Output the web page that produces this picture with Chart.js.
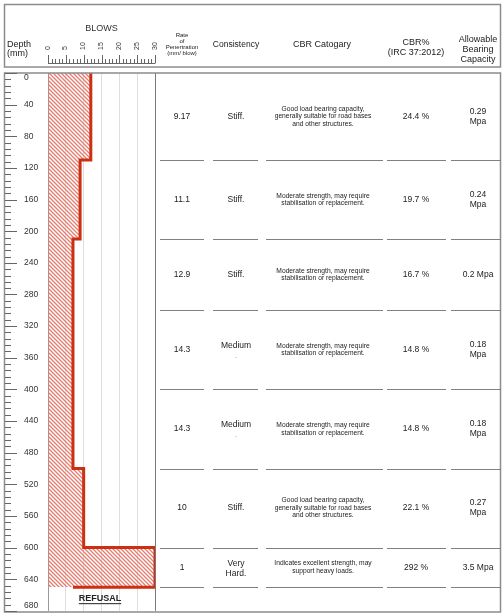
<!DOCTYPE html>
<html>
<head>
<meta charset="utf-8">
<script src="https://cdn.jsdelivr.net/npm/chart.js@4.4.0/dist/chart.umd.min.js"></script>
<style>
  html, body { margin: 0; padding: 0; background: #fff; }
  #mycanvas { display: block; }
</style>
</head>
<body>
<canvas id="mycanvas" width="504" height="616"></canvas>
<script>
// DCP log, depths in mm
var layerTop = [0, 110, 210, 300, 400, 500, 600];
var layerBottom = [110, 210, 300, 400, 500, 600, 650];
var blows = [12, 9, 7, 7, 7, 10, 30];
var refusalEnd = 7;

var rate = ['9.17', '11.1', '12.9', '14.3', '14.3', '10', '1'];
var consistency = ['Stiff.', 'Stiff.', 'Stiff.', 'Medium\n.', 'Medium\n.', 'Stiff.', 'Very\nHard.'];
var cbrCategory = [
	'Good load bearing capacity,\ngenerally suitable for road bases\nand other structures.',
	'Moderate strength, may require\nstabilisation or replacement.',
	'Moderate strength, may require\nstabilisation or replacement.',
	'Moderate strength, may require\nstabilisation or replacement.',
	'Moderate strength, may require\nstabilisation or replacement.',
	'Good load bearing capacity,\ngenerally suitable for road bases\nand other structures.',
	'Indicates excellent strength, may\nsupport heavy loads.'
];
var cbr = ['24.4 %', '19.7 %', '16.7 %', '14.8 %', '14.8 %', '22.1 %', '292 %'];
var bearing = ['0.29\nMpa', '0.24\nMpa', '0.2 Mpa', '0.18\nMpa', '0.18\nMpa', '0.27\nMpa', '3.5 Mpa'];

var blowTicks = [0, 5, 10, 15, 20, 25, 30];
var depthTicks = [0, 40, 80, 120, 160, 200, 240, 280, 320, 360, 400, 440, 480, 520, 560, 600, 640, 680];

// stepped blow profile
var profile = [];
for (var i = 0; i < blows.length; i++) {
	profile.push({x: blows[i], y: layerTop[i]});
	profile.push({x: blows[i], y: layerBottom[i]});
}
profile.push({x: refusalEnd, y: layerBottom[layerBottom.length - 1]});

var FONT = '"Liberation Sans", Arial, sans-serif';
var canvas = document.getElementById('mycanvas');

function makeHatch() {
	var c = document.createElement('canvas');
	c.width = 4; c.height = 4;
	var g = c.getContext('2d');
	g.strokeStyle = '#e27d72';
	g.lineWidth = 1.3;
	g.beginPath();
	g.moveTo(-1, -1); g.lineTo(5, 5);
	g.moveTo(-1, 3); g.lineTo(1, 5);
	g.moveTo(3, -1); g.lineTo(5, 1);
	g.stroke();
	return canvas.getContext('2d').createPattern(c, 'repeat');
}

function lines(ctx, text, x, y, size, lh, align) {
	var parts = text.split('\n');
	ctx.font = size + 'px ' + FONT;
	ctx.textAlign = align || 'center';
	ctx.textBaseline = 'middle';
	var y0 = y - (parts.length - 1) * lh / 2;
	for (var k = 0; k < parts.length; k++) {
		ctx.fillStyle = parts[k] === '.' ? '#aaa' : '#222';
		ctx.fillText(parts[k], x, y0 + k * lh);
	}
}

var colSpans = [[160, 204], [213, 258], [266, 383], [387, 446], [451, 501]];

var logPlugin = {
	id: 'logPlugin',
	afterDraw: function(chart) {
		var ctx = chart.ctx;
		var xs = chart.scales.x, ys = chart.scales.y;
		ctx.save();

		// frames
		ctx.strokeStyle = '#8c8c8c';
		ctx.lineWidth = 1.5;
		ctx.strokeRect(4.5, 4.5, 496, 62.5);
		ctx.strokeRect(4.5, 73, 496, 539);

		// blows ruler
		ctx.strokeStyle = '#666';
		ctx.lineWidth = 1;
		ctx.beginPath();
		ctx.moveTo(xs.getPixelForValue(0), 63.5);
		ctx.lineTo(xs.getPixelForValue(30), 63.5);
		for (var b = 0; b <= 30; b++) {
			var px = Math.round(xs.getPixelForValue(b)) + 0.5;
			ctx.moveTo(px, 63.5);
			ctx.lineTo(px, b % 5 === 0 ? 55 : 59);
		}
		ctx.stroke();

		// depth ruler
		ctx.beginPath();
		for (var d = 0; d <= 680; d += 8) {
			var py = Math.round(ys.getPixelForValue(d)) + 0.5;
			ctx.moveTo(5, py);
			ctx.lineTo(d % 40 === 0 ? 17 : 11, py);
		}
		ctx.stroke();

		// end labels of the depth axis, kept inside the frame
		var first = depthTicks[0], last = depthTicks[depthTicks.length - 1];
		ctx.fillStyle = '#333';
		ctx.font = '8.5px ' + FONT;
		ctx.textAlign = 'left';
		ctx.textBaseline = 'middle';
		ctx.fillText(String(first), 24, ys.getPixelForValue(first) + 5);
		ctx.fillText(String(last), 24, ys.getPixelForValue(last) - 5);

		// header texts
		lines(ctx, 'Depth\n(mm)', 7, 49, 9, 9, 'left');
		lines(ctx, 'Rate\nof\nPenertration\n(mm/ blow)', 182, 44, 6, 6);
		lines(ctx, 'Consistency', 236, 45, 8.5, 10);
		lines(ctx, 'CBR Catogary', 322, 45, 9, 10);
		lines(ctx, 'CBR%\n(IRC 37:2012)', 416, 47.5, 9, 10);
		lines(ctx, 'Allowable\nBearing\nCapacity', 478, 50, 9, 10);

		// row separators and values
		ctx.strokeStyle = '#808080';
		ctx.lineWidth = 1;
		for (var r = 0; r < layerBottom.length; r++) {
			var yb = Math.round(ys.getPixelForValue(layerBottom[r])) + 0.5;
			ctx.beginPath();
			for (var c = 0; c < colSpans.length; c++) {
				ctx.moveTo(colSpans[c][0], yb);
				ctx.lineTo(colSpans[c][1], yb);
			}
			ctx.stroke();

			var ym = ys.getPixelForValue((layerTop[r] + layerBottom[r]) / 2);
			lines(ctx, rate[r], 182, ym, 8.5, 10);
			lines(ctx, consistency[r], 236, ym - (consistency[r].indexOf('\n') > 0 ? -1 : 0), 8.5, 10);
			lines(ctx, cbrCategory[r], 323, ym, 6.7, 7.5);
			lines(ctx, cbr[r], 416, ym, 8.5, 10);
			lines(ctx, bearing[r], 478, ym, 8.5, 10);
		}

		// refusal label
		var yr = ys.getPixelForValue(layerBottom[layerBottom.length - 1]) + 11;
		ctx.font = 'bold 9px ' + FONT;
		ctx.textAlign = 'center';
		ctx.textBaseline = 'middle';
		ctx.fillStyle = '#222';
		ctx.fillText('REFUSAL', 100, yr);
		var w = ctx.measureText('REFUSAL').width;
		ctx.fillRect(100 - w / 2, yr + 5, w, 1);

		ctx.restore();
	}
};

var chart = new Chart(canvas, {
	type: 'line',
	data: {
		datasets: [{
			data: profile,
			borderColor: '#cc3012',
			borderWidth: 3,
			borderJoinStyle: 'miter',
			backgroundColor: makeHatch(),
			fill: 'origin',
			pointRadius: 0,
			tension: 0
		}]
	},
	options: {
		indexAxis: 'y',
		responsive: false,
		animation: false,
		layout: { padding: { left: 24, right: 349, top: 0, bottom: 5 } },
		plugins: {
			legend: { display: false },
			tooltip: { enabled: false }
		},
		scales: {
			x: {
				type: 'linear',
				position: 'top',
				min: 0,
				max: 30,
				afterFit: function(s) { s.height = 73; },
				afterBuildTicks: function(s) { s.ticks = blowTicks.map(function(v) { return {value: v}; }); },
				ticks: {
					minRotation: 90,
					maxRotation: 90,
					autoSkip: false,
					padding: 23,
					labelOffset: 8,
					color: '#333',
					font: { family: FONT, size: 7 }
				},
				grid: {
					drawTicks: false,
					lineWidth: 1,
					color: function(c) {
						if (!c.tick) return '#ddd';
						if (c.tick.value === 0) return '#999';
						if (c.tick.value === 30) return '#7a7a7a';
						return '#dedede';
					}
				},
				border: { display: false },
				title: {
					display: true,
					text: 'BLOWS',
					color: '#333',
					padding: { top: 23, bottom: 0 },
					font: { family: FONT, size: 9 }
				}
			},
			y: {
				type: 'linear',
				position: 'left',
				reverse: true,
				min: 0,
				max: 680,
				afterFit: function(s) { s.width = 24; },
				afterBuildTicks: function(s) { s.ticks = depthTicks.map(function(v) { return {value: v}; }); },
				ticks: {
					autoSkip: false,
					crossAlign: 'far',
					padding: 0,
					color: function(c) {
						var v = c.tick ? c.tick.value : null;
						return (v === depthTicks[0] || v === depthTicks[depthTicks.length - 1]) ? 'rgba(0,0,0,0)' : '#333';
					},
					font: { family: FONT, size: 8.5 }
				},
				grid: { display: false, drawTicks: false },
				border: { display: false }
			}
		}
	},
	plugins: [logPlugin]
});
</script>
</body>
</html>
